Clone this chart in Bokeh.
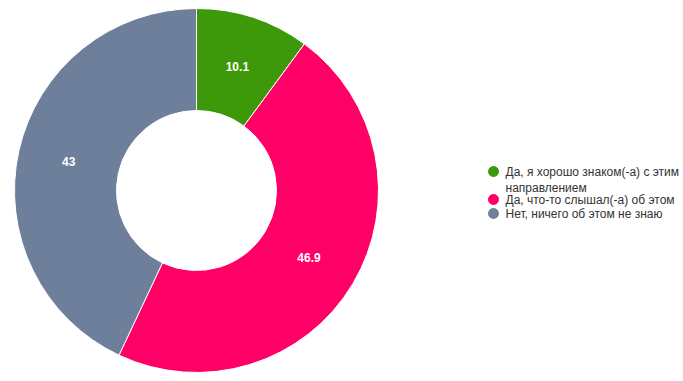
import numpy as np
from bokeh.plotting import figure
from bokeh.models import Range1d, ColumnDataSource
from bokeh.core.properties import value
from bokeh.embed import file_html
from bokeh.resources import INLINE

categories = ["Да, я хорошо знаком(-а) с этим\nнаправлением",
              "Да, что-то слышал(-а) об этом",
              "Нет, ничего об этом не знаю"]
values = [10.1, 46.9, 43]
labels = ["10.1", "46.9", "43"]
colors = ["#3d980a", "#ff0066", "#6e7f9c"]

W, H = 683, 381
p = figure(width=W, height=H, output_backend="svg", toolbar_location=None,
           x_range=Range1d(0, W), y_range=Range1d(0, H), min_border=0)
p.axis.visible = False
p.grid.visible = False
p.outline_line_color = None
p.background_fill_color = "white"

cx, cy = 196, H - 190
r_out, r_in = 182, 80
vals = np.array(values)
frac = vals / vals.sum()
ends = np.cumsum(frac)
starts = ends - frac
start_ang = np.pi / 2 - starts * 2 * np.pi
end_ang = np.pi / 2 - ends * 2 * np.pi
src = ColumnDataSource(dict(start=start_ang, end=end_ang, color=colors))
p.annular_wedge(x=cx, y=cy, inner_radius=r_in, outer_radius=r_out,
                start_angle="start", end_angle="end", direction="clock",
                fill_color="color", line_color="white", line_width=1, source=src)

mid = np.pi / 2 - (starts + frac / 2) * 2 * np.pi
rl = (r_in + r_out) / 2
lsrc = ColumnDataSource(dict(x=cx + rl * np.cos(mid), y=cy + rl * np.sin(mid), t=labels))
p.text(x="x", y="y", text="t", source=lsrc, text_color="white",
       text_font=value("Liberation Sans"), text_font_style="bold",
       text_font_size="12px", text_align="center", text_baseline="middle")

# legend
lx, ly0 = 493, H - 171
ys = []
y = ly0
for c in categories:
    ys.append(y)
    y -= 14 * (c.count("\n") + 1)
gsrc = ColumnDataSource(dict(x=[lx] * 3, y=ys, tx=[lx + 12] * 3,
                             ty=[v + 7 for v in ys], t=categories, color=colors))
p.scatter(x="x", y="y", size=10, fill_color="color", line_color="color", source=gsrc)
p.text(x="tx", y="ty", text="t", source=gsrc, text_color="#333333",
       text_font=value("Liberation Sans"), text_font_size="12px",
       text_align="left", text_baseline="top", text_line_height=1.17)

open("out.html", "w").write(file_html(p, INLINE))
